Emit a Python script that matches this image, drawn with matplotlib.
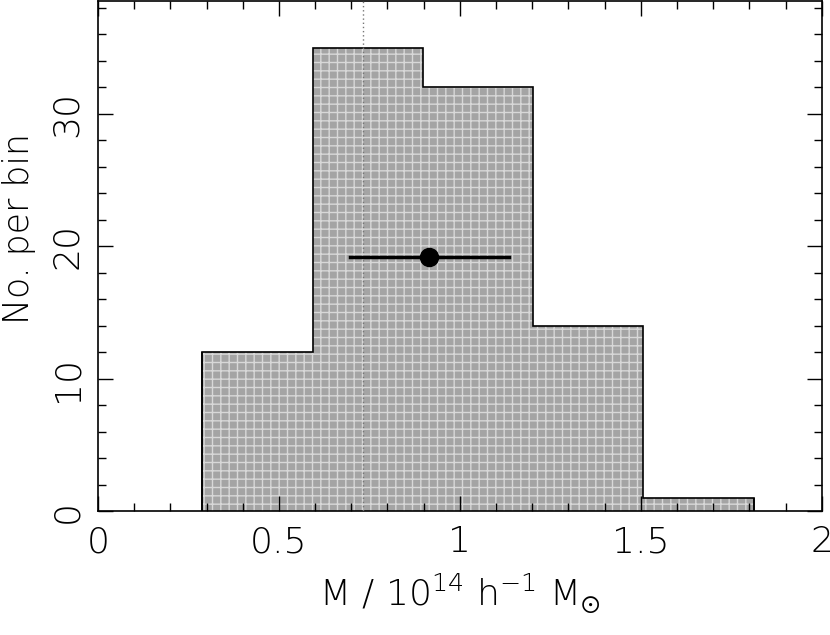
import matplotlib
matplotlib.use("Agg")
import matplotlib.pyplot as plt
from matplotlib.ticker import MultipleLocator
import matplotlib.font_manager as fm

# histogram of masses
bin_edges = [0.287, 0.594, 0.899, 1.202, 1.506, 1.813]
counts = [12, 35, 32, 14, 1]

# mean point with error bar
mean_x = 0.916
mean_y = 19.2
err_lo = 0.697
err_hi = 1.136

# dotted reference line
ref_x = 0.733

names = [f.name for f in fm.fontManager.ttflist]
fam = 'Liberation Sans Narrow' if 'Liberation Sans Narrow' in names else 'DejaVu Sans'
plt.rcParams['font.family'] = [fam, 'DejaVu Sans']
plt.rcParams['mathtext.default'] = 'regular'

fig = plt.figure(figsize=(8.3, 6.35), dpi=100)
ax = fig.add_axes([0.118, 0.195, 0.872, 0.803])

widths = [bin_edges[i+1] - bin_edges[i] for i in range(len(counts))]
ax.bar(bin_edges[:-1], counts, width=widths, align='edge', color='#a4a4a4',
       edgecolor='#d8d8d8', hatch='++', linewidth=0, zorder=1)
ax.stairs(counts, bin_edges, color='black', linewidth=1.2, zorder=2)
# vertical closing edges
ax.vlines([bin_edges[0], bin_edges[-1]], 0, [counts[0], counts[-1]], color='black', lw=1.2, zorder=2)

ax.axvline(ref_x, color='#777777', linestyle=(0, (1, 2)), linewidth=1.0, zorder=3)

ax.plot([err_lo, err_hi], [mean_y, mean_y], color='black', linewidth=2.5, zorder=4)
ax.plot(mean_x, mean_y, 'o', color='black', markersize=13, zorder=5)

ax.set_xlim(0, 2)
ax.set_ylim(0, 38.5)
ax.xaxis.set_major_locator(MultipleLocator(0.5))
ax.xaxis.set_minor_locator(MultipleLocator(0.1))
ax.yaxis.set_major_locator(MultipleLocator(10))
ax.yaxis.set_minor_locator(MultipleLocator(2))
ax.set_xticks([0, 0.5, 1, 1.5, 2])
ax.set_xticklabels(['0', '0.5', '1', '1.5', '2'])
ax.tick_params(which='both', direction='in', top=True, right=True, width=1.0)
ax.tick_params(which='major', length=11, labelsize=26, pad=10)
ax.tick_params(which='minor', length=6)
for lab in ax.get_yticklabels():
    lab.set_rotation(90)
    lab.set_va('center')
for lab in ax.get_xticklabels() + ax.get_yticklabels():
    lab.set_fontweight('light')
for s in ax.spines.values():
    s.set_linewidth(1.2)

ax.set_xlabel(r'M / 10$^{14}$ h$^{-1}$ M$_{\odot}$', fontsize=26, fontweight='light', labelpad=9)
ax.set_ylabel('No. per bin', fontsize=25, fontweight='light')
ax.yaxis.set_label_coords(-0.086, 0.554)

fig.savefig('out.png', dpi=100)
